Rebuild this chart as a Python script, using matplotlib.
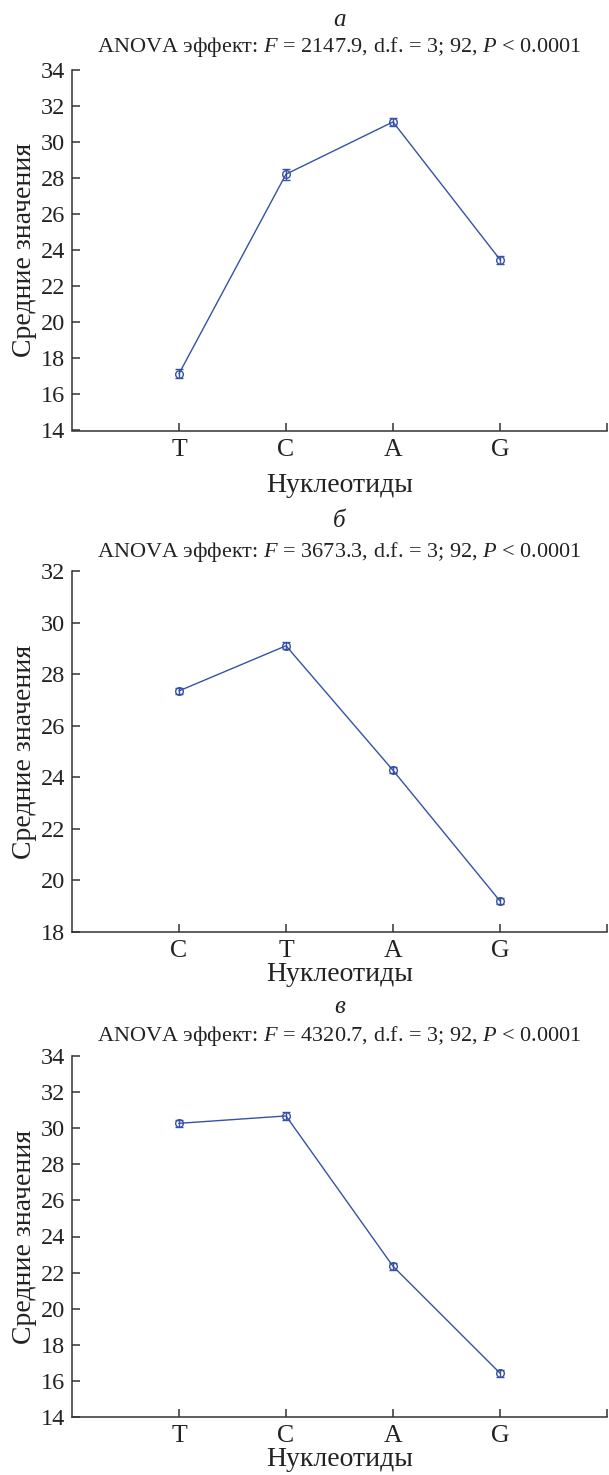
import matplotlib
matplotlib.use('Agg')
import matplotlib.pyplot as plt

plt.rcParams['font.family'] = ['Liberation Serif', 'DejaVu Serif']
plt.rcParams['mathtext.fontset'] = 'custom'
plt.rcParams['mathtext.rm'] = 'Liberation Serif'
plt.rcParams['mathtext.it'] = 'Liberation Serif:italic'

# ---- data ----
panel_letters = ['а', 'б', 'в']
anova_F = ['2147.9', '3673.3', '4320.7']

cats_a = ['T', 'C', 'A', 'G']
means_a = [17.15, 28.22, 31.12, 23.48]
err_a = [0.25, 0.3, 0.22, 0.22]

cats_b = ['C', 'T', 'A', 'G']
means_b = [27.35, 29.1, 24.27, 19.2]
err_b = [0.13, 0.13, 0.12, 0.12]

cats_c = ['T', 'C', 'A', 'G']
means_c = [30.27, 30.68, 22.35, 16.43]
err_c = [0.2, 0.22, 0.2, 0.2]

yticks_a = [14, 16, 18, 20, 22, 24, 26, 28, 30, 32, 34]
yticks_b = [18, 20, 22, 24, 26, 28, 30, 32]
yticks_c = [14, 16, 18, 20, 22, 24, 26, 28, 30, 32, 34]

xlabel = 'Нуклеотиды'
ylabel = 'Средние значения'

# ---- layout (pixels) ----
W, H = 609, 1475
LEFT, RIGHT = 72, 607
panels = [
    dict(cats=cats_a, means=means_a, err=err_a, yt=yticks_a, top=70, bot=430.5,
         xlpad=9, letter_off=44, anova_off=18),
    dict(cats=cats_b, means=means_b, err=err_b, yt=yticks_b, top=571, bot=932,
         xlpad=0, letter_off=44, anova_off=14),
    dict(cats=cats_c, means=means_c, err=err_c, yt=yticks_c, top=1056, bot=1417,
         xlpad=0, letter_off=43, anova_off=15),
]

color = '#3652a6'
spc = '#333333'
tc = '#222222'

fig = plt.figure(figsize=(W / 100, H / 100), dpi=100)

for i, p in enumerate(panels):
    ax = fig.add_axes([LEFT / W, 1 - p['bot'] / H, (RIGHT - LEFT) / W, (p['bot'] - p['top']) / H])
    x = list(range(1, len(p['cats']) + 1))
    ax.errorbar(x, p['means'], yerr=p['err'], color=color, marker='o', mfc='none',
                mec=color, ms=5.5, lw=1.0, elinewidth=1.0, capsize=3, capthick=1.0)
    ax.set_xlim(0, 5)
    ax.set_ylim(p['yt'][0], p['yt'][-1])
    ax.set_xticks(x + [5])
    ax.set_xticklabels(p['cats'] + [''])
    ax.set_yticks(p['yt'])
    for s in ['top', 'right']:
        ax.spines[s].set_visible(False)
    for s in ['left', 'bottom']:
        ax.spines[s].set_color(spc)
        ax.spines[s].set_linewidth(1.1)
    ax.tick_params(axis='both', direction='in', length=6, width=1.1, color=spc,
                   labelcolor=tc)
    ax.tick_params(axis='y', pad=5, labelsize=17.5)
    ax.tick_params(axis='x', pad=6, labelsize=18.5)
    ax.set_xlabel(xlabel, fontsize=20, color=tc, labelpad=p['xlpad'])
    cx = (LEFT + RIGHT) / 2 / W
    fig.text(25 / W, 1 - (p['top'] + p['bot']) / 2 / H, ylabel, rotation=90,
             ha='center', va='center', fontsize=20, color=tc)
    fig.text(cx, 1 - (p['top'] - p['letter_off']) / H, panel_letters[i], style='italic',
             ha='center', va='baseline', fontsize=18, color=tc)
    fig.text(cx, 1 - (p['top'] - p['anova_off']) / H,
             'ANOVA эффект: $F$ = ' + anova_F[i] + ', d.f. = 3; 92, $P$ < 0.0001',
             ha='center', va='baseline', fontsize=16, color=tc)

fig.savefig('out.png', dpi=100)
